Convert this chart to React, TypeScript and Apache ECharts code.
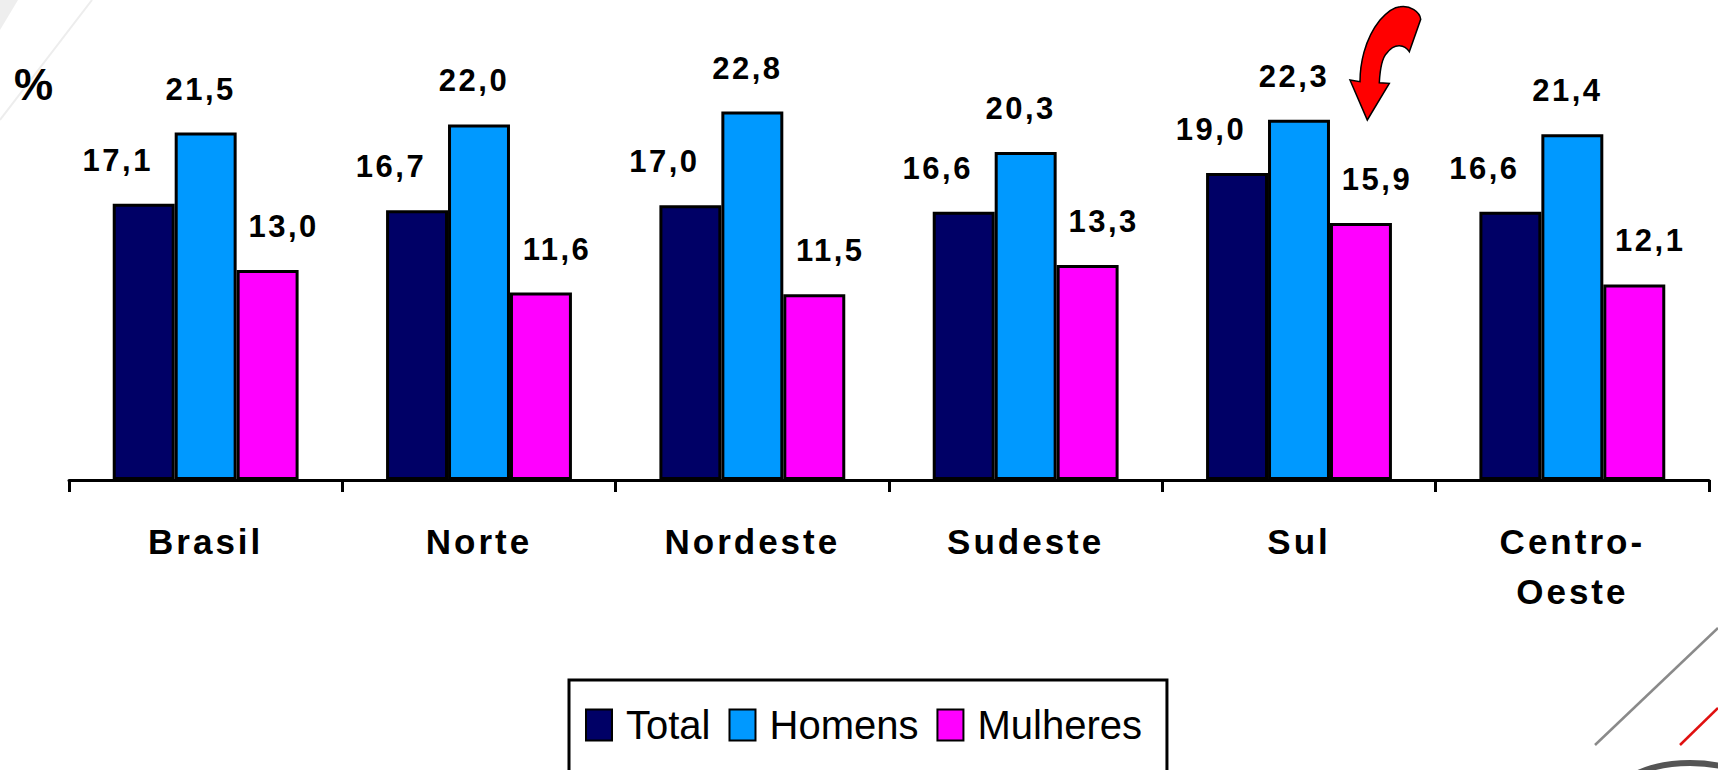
import React, { useEffect, useRef } from "react";
import * as echarts from "echarts";

const categories = ["Brasil", "Norte", "Nordeste", "Sudeste", "Sul", "Centro-\nOeste"];
const totalValues = [17.1, 16.7, 17.0, 16.6, 19.0, 16.6];
const homensValues = [21.5, 22.0, 22.8, 20.3, 22.3, 21.4];
const mulheresValues = [13.0, 11.6, 11.5, 13.3, 15.9, 12.1];
const seriesNames = ["Total", "Homens", "Mulheres"];
const seriesColors = ["#000066", "#0099FF", "#FF00FF"];
const labelOffsets = [-26, -5, 16];

const FONT = "'Liberation Sans', Arial, Helvetica, sans-serif";

const arrowPath =
  "M 50 6.7 C 60 5 70 12 70.7 19.3 L 59.3 51.7 C 55 45 45 42 36.7 53.3 C 32 58 30 70 29.3 82.7 L 39.3 83.3 L 17.3 120 L 0 80 L 10 81.7 C 10 65 14 40 30 20 C 38 11 44 7 50 6.7 Z";

let registered = false;
function registerArrow() {
  if (registered) return;
  registered = true;
  echarts.graphic.registerShape("curvedArrow", echarts.graphic.extendPath(arrowPath, {}) as any);
}

const fmt = (v: number) => v.toFixed(1).replace(".", ",");

export default function App() {
  const ref = useRef<HTMLDivElement>(null);

  useEffect(() => {
    if (!ref.current) return;
    registerArrow();
    const chart = echarts.init(ref.current, null, { renderer: "svg" });
    const data = [totalValues, homensValues, mulheresValues];
    const option: any = {
      animation: false,
      backgroundColor: "#ffffff",
      grid: { left: 69, right: 9, top: 76, height: 404 },
      legend: {
        data: seriesNames,
        left: 569,
        top: 680,
        orient: "horizontal",
        icon: "rect",
        itemWidth: 26,
        itemHeight: 31,
        itemGap: 18,
        padding: [21, 25, 50, 16],
        borderColor: "#000",
        borderWidth: 3,
        textStyle: {
          fontFamily: FONT,
          fontSize: 40,
          color: "#000",
          lineHeight: 48,
          padding: [0, 0, 0, 9],
        },
      },
      xAxis: {
        type: "category",
        data: categories,
        axisLine: { show: true, lineStyle: { color: "#000", width: 3 } },
        axisTick: { show: true, length: 12, lineStyle: { color: "#000", width: 3 } },
        axisLabel: {
          interval: 0,
          margin: 36,
          fontFamily: FONT,
          fontSize: 35,
          fontWeight: "bold",
          lineHeight: 50,
          color: "#000",
        },
        splitLine: { show: false },
      },
      yAxis: {
        type: "value",
        min: 0,
        max: 25,
        show: false,
        splitLine: { show: false },
      },
      series: seriesNames.map((name, i) => ({
        name,
        type: "bar",
        data: data[i],
        barGap: "0%",
        barCategoryGap: "32%",
        itemStyle: { color: seriesColors[i], borderColor: "#000", borderWidth: 3 },
        label: {
          show: true,
          position: "top",
          distance: 28,
          offset: [labelOffsets[i], 0],
          formatter: (p: any) => fmt(p.value),
          fontFamily: FONT,
          fontSize: 31,
          fontWeight: "bold",
          color: "#000",
        },
      })),
      graphic: [
        {
          type: "polygon",
          z: -10,
          shape: { points: [[0, 0], [18, 0], [0, 30]] },
          style: { fill: "#eeeeee" },
        },
        {
          type: "line",
          z: -10,
          shape: { x1: 0, y1: 120, x2: 92, y2: 0 },
          style: { stroke: "#ededed", lineWidth: 2 },
        },
        {
          type: "line",
          z: -10,
          shape: { x1: 1595, y1: 745, x2: 1718, y2: 628 },
          style: { stroke: "#8a8a8a", lineWidth: 2.5 },
        },
        {
          type: "line",
          z: -10,
          shape: { x1: 1680, y1: 745, x2: 1718, y2: 708 },
          style: { stroke: "#e01010", lineWidth: 2.5 },
        },
        {
          type: "ellipse",
          z: -10,
          shape: { cx: 1690, cy: 805, rx: 80, ry: 42 },
          style: { fill: "none", stroke: "#555555", lineWidth: 6 },
        },
        {
          type: "text",
          left: 14,
          top: 62,
          style: {
            text: "%",
            fontFamily: FONT,
            fontSize: 44,
            fontWeight: "bold",
            fill: "#000",
          },
        },
        {
          type: "curvedArrow",
          x: 1350,
          y: 0,
          z: 100,
          style: { fill: "#ff0000", stroke: "#000", lineWidth: 1.5 },
        },
      ],
    };
    chart.setOption(option);
    return () => chart.dispose();
  }, []);

  return (
    <>
      <style>{`
        .chartbox text[style*="31px"] { letter-spacing: 2.5px; }
        .chartbox text[style*="35px"] { letter-spacing: 3px; }
      `}</style>
      <div
        ref={ref}
        className="chartbox"
        style={{ position: "fixed", left: 0, top: 0, width: 1718, height: 770 }}
      />
    </>
  );
}
